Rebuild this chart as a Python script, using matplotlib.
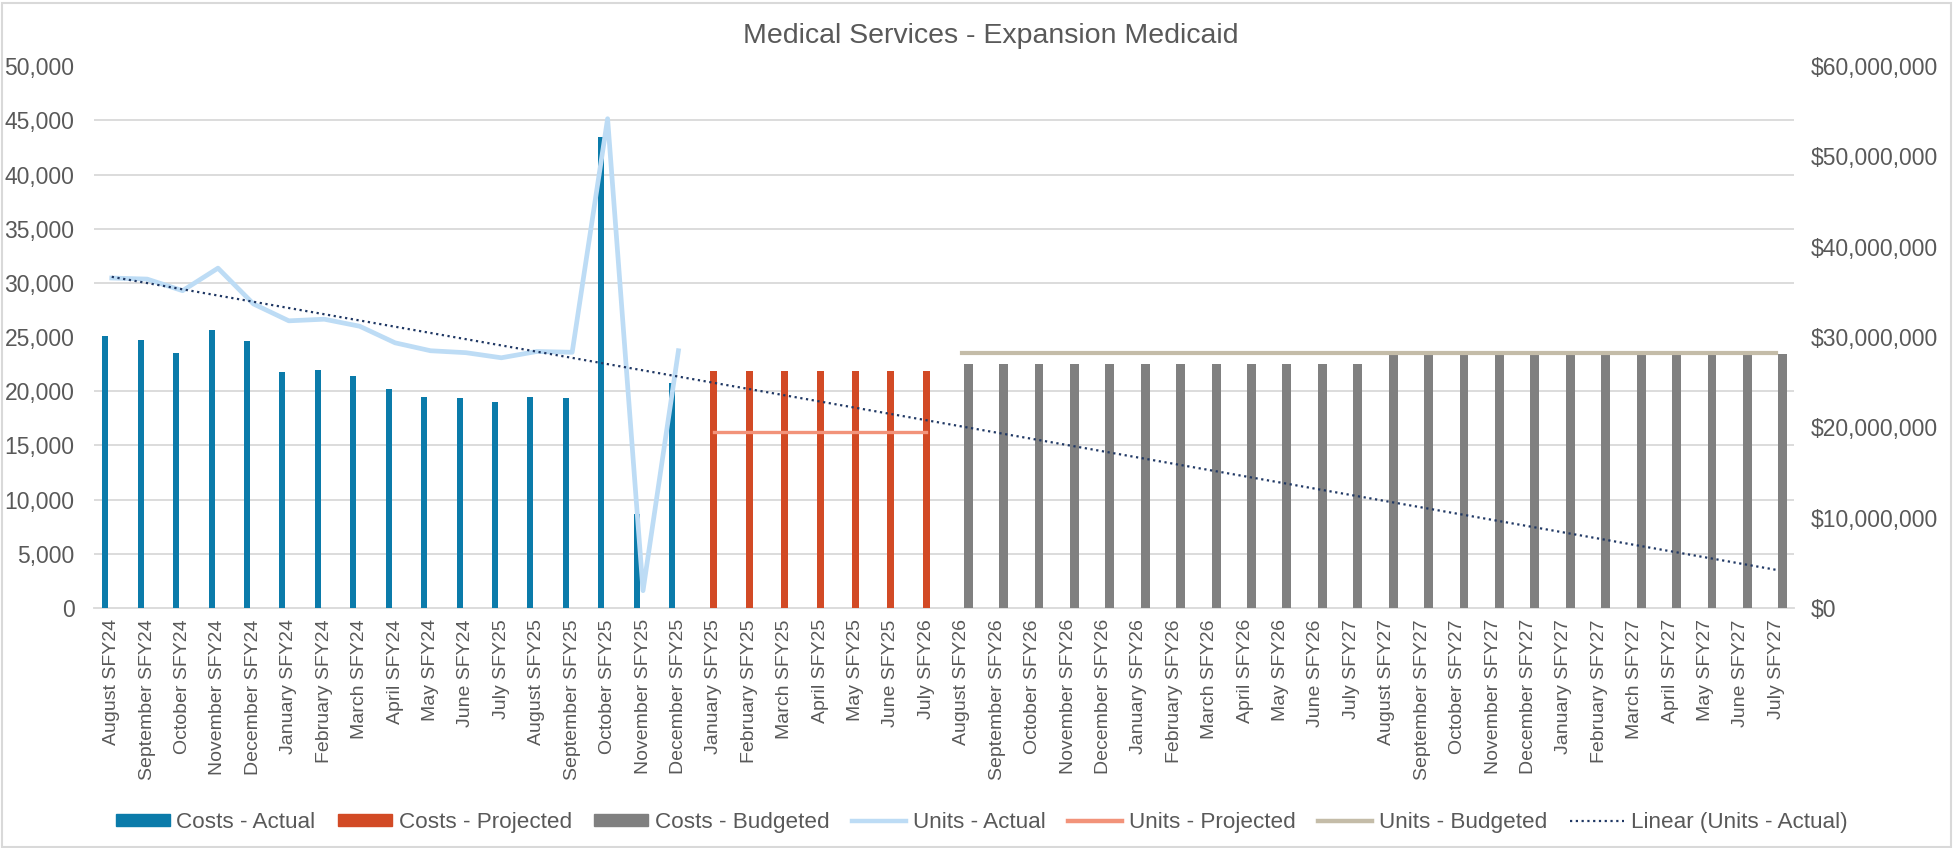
import matplotlib.pyplot as plt
import numpy as np
from matplotlib.lines import Line2D
from matplotlib.patches import Patch, Rectangle
from matplotlib.ticker import FuncFormatter, MultipleLocator

plt.rcParams['font.family'] = ['Liberation Sans', 'DejaVu Sans']

TEXT = '#595959'

# Категории (месяцы)
months_actual = [
    "August SFY24", "September SFY24", "October SFY24", "November SFY24",
    "December SFY24", "January SFY24", "February SFY24", "March SFY24",
    "April SFY24", "May SFY24", "June SFY24", "July SFY25", "August SFY25",
    "September SFY25", "October SFY25", "November SFY25", "December SFY25",
]
months_projected = [
    "January SFY25", "February SFY25", "March SFY25", "April SFY25",
    "May SFY25", "June SFY25", "July SFY26",
]
months_budgeted = [
    "August SFY26", "September SFY26", "October SFY26", "November SFY26",
    "December SFY26", "January SFY26", "February SFY26", "March SFY26",
    "April SFY26", "May SFY26", "June SFY26", "July SFY27",
    "August SFY27", "September SFY27", "October SFY27", "November SFY27",
    "December SFY27", "January SFY27", "February SFY27", "March SFY27",
    "April SFY27", "May SFY27", "June SFY27", "July SFY27",
]

# Затраты, $
costs_actual = [
    30070000, 29710000, 28270000, 30770000, 29580000, 26140000, 26300000,
    25740000, 24200000, 23380000, 23240000, 22760000, 23380000, 23290000,
    52180000, 10450000, 24910000,
]
costs_projected = [26220000] * 7
costs_budgeted = [27000000] * 12 + [28100000] * 12

# Единицы
units_actual = [
    30450, 30350, 29280, 31360, 28060, 26500, 26650, 26000, 24470, 23740,
    23560, 23090, 23670, 23600, 45150, 1600, 23740,
]
units_projected = [16250] * 7
units_budgeted = [23520] * 24

labels = months_actual + months_projected + months_budgeted
n = len(labels)
x = np.arange(n)
xa = x[:len(months_actual)]
xp = x[len(months_actual):len(months_actual) + len(months_projected)]
xb = x[len(months_actual) + len(months_projected):]

fig = plt.figure(figsize=(19.55, 8.48), dpi=100)
fig.patches.append(Rectangle((0.001, 0.001), 0.997, 0.996, transform=fig.transFigure,
                             fill=False, edgecolor='#D9D9D9', linewidth=1.5))

# Ось затрат (снизу, подписи справа)
ax = fig.add_axes([0.0481, 0.283, 0.8696, 0.639])
ax.bar(xa - 0.18, costs_actual, width=0.17, color='#0B7BAA', zorder=3)
ax.bar(xp, costs_projected, width=0.2, color='#D24A25', zorder=3)
ax.bar(xb + 0.18, costs_budgeted, width=0.25, color='#808080', zorder=3)
ax.set_ylim(0, 60000000)
ax.set_xlim(-0.5, n - 0.5)

# Ось единиц (подписи слева)
ax2 = ax.twinx()
ax2.plot(xa, units_actual, color='#BDDCF5', linewidth=3.4, solid_joinstyle='round')
ax2.plot(xp, units_projected, color='#F2937A', linewidth=2.4)
ax2.plot(xb, units_budgeted, color='#C4BCA8', linewidth=3.0)

# Линейный тренд по фактическим единицам
k, b = np.polyfit(xa, units_actual, 1)
ax2.plot(x, k * x + b, color='#203864', linewidth=1.6, linestyle=(0, (1, 1.6)))

ax2.set_ylim(0, 50000)

# twinx переключает тики, поэтому настраиваем после
ax.yaxis.tick_right()
ax.yaxis.set_major_locator(MultipleLocator(10000000))
ax.yaxis.set_minor_locator(MultipleLocator(6000000))
ax.yaxis.set_major_formatter(FuncFormatter(lambda v, p: f"${v:,.0f}"))
ax.yaxis.set_minor_formatter(FuncFormatter(lambda v, p: ""))
ax.grid(which='minor', axis='y', color='#D9D9D9', linewidth=1.3, zorder=0)
ax.tick_params(axis='y', which='both', length=0, labelsize=16.5, labelcolor=TEXT, pad=12)
ax.set_xticks(x)
ax.set_xticklabels(labels, rotation=90, fontsize=14, color=TEXT)
ax.tick_params(axis='x', length=0, pad=8)
for s in ['top', 'left', 'right']:
    ax.spines[s].set_visible(False)
ax.spines['bottom'].set_color('#D9D9D9')
ax.spines['bottom'].set_linewidth(1.3)

ax2.yaxis.tick_left()
ax2.yaxis.set_major_locator(MultipleLocator(5000))
ax2.yaxis.set_major_formatter(FuncFormatter(lambda v, p: f"{v:,.0f}"))
ax2.tick_params(axis='y', length=0, labelsize=16.5, labelcolor=TEXT, pad=14)
for s in ax2.spines.values():
    s.set_visible(False)

fig.text(0.507, 0.957, "Medical Services - Expansion Medicaid", ha='center', va='center',
         fontsize=20.5, color=TEXT)

handles = [
    Patch(color='#0B7BAA', label='Costs - Actual'),
    Patch(color='#D24A25', label='Costs - Projected'),
    Patch(color='#808080', label='Costs - Budgeted'),
    Line2D([], [], color='#BDDCF5', linewidth=3.2, label='Units - Actual'),
    Line2D([], [], color='#F2937A', linewidth=3.2, label='Units - Projected'),
    Line2D([], [], color='#C4BCA8', linewidth=3.2, label='Units - Budgeted'),
    Line2D([], [], color='#203864', linewidth=1.6, linestyle=(0, (1, 1.6)),
           label='Linear (Units - Actual)'),
]
leg = fig.legend(handles=handles, loc='center', bbox_to_anchor=(0.502, 0.03), ncol=7,
                 frameon=False, fontsize=16.2, handlelength=2.4, handleheight=0.5,
                 handletextpad=0.3, columnspacing=1.0, labelcolor=TEXT)

fig.savefig('out.png', dpi=100)
plt.close(fig)
